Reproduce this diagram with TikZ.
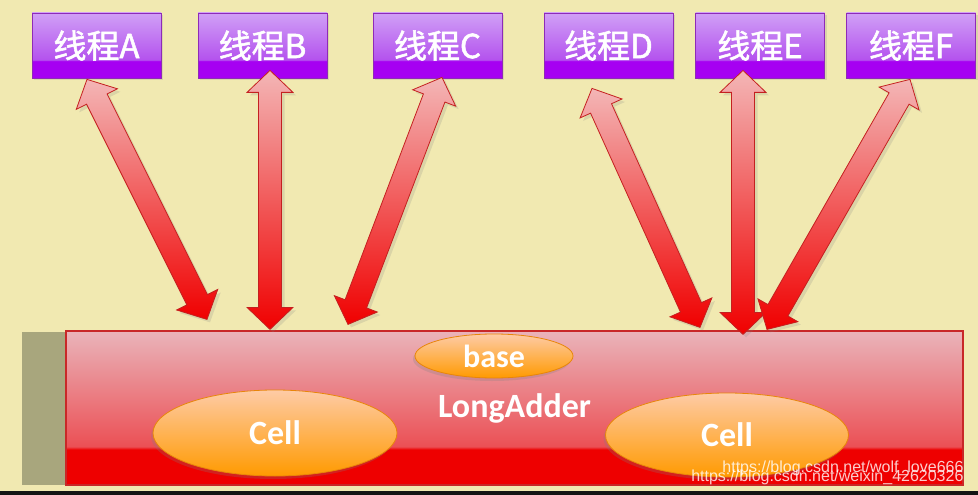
\documentclass[tikz,border=0pt]{standalone}
\usepackage{fontspec}
\usepackage{xcolor}
\usepackage{tikz}
\usetikzlibrary{calc,shapes.geometric,shadows}
\setmainfont{Carlito}
\newfontfamily\cjk{Noto Sans CJK SC}[AutoFakeBold=1.6]
\newfontfamily\wmfont{Liberation Sans}

\definecolor{bg}{HTML}{F1E9B1}
\definecolor{bandcol}{HTML}{A8A67D}
\definecolor{plight}{HTML}{D0A0F6}
\definecolor{pmid}{HTML}{B452EE}
\definecolor{pdeep}{HTML}{A600F2}
\definecolor{pline}{HTML}{8E2AB8}
\definecolor{rpink}{HTML}{EAB4BA}
\definecolor{rmid}{HTML}{EB5055}
\definecolor{rdeep}{HTML}{EE0000}
\definecolor{rline}{HTML}{C82828}
\definecolor{opeach}{HTML}{FECBA6}
\definecolor{oorange}{HTML}{FF9A00}
\definecolor{oline}{HTML}{E8860A}
\definecolor{apink}{HTML}{F3B6B6}
\definecolor{ared}{HTML}{F00000}
\definecolor{aline}{HTML}{C42020}

\pgfdeclareverticalshading{threadshade}{100bp}{color(0bp)=(pdeep); color(38bp)=(pdeep); color(39bp)=(pmid); color(75bp)=(plight); color(100bp)=(plight)}
\pgfdeclareverticalshading{addershade}{100bp}{color(0bp)=(rdeep); color(36.5bp)=(rdeep); color(37.5bp)=(rmid); color(75bp)=(rpink); color(100bp)=(rpink)}

\tikzset{
	thread/.style={rectangle, shading=threadshade, draw=pline, line width=0.8pt,
		minimum width=129pt, minimum height=65pt, text=white,
		font=\cjk\bfseries\fontsize{33}{36}\selectfont,
		drop shadow={opacity=0.2, shadow xshift=2pt, shadow yshift=-2pt}},
	adder/.style={rectangle, shading=addershade, draw=rline, line width=1.2pt,
		minimum width=897pt, minimum height=154pt, text=white,
		font=\bfseries\fontsize{34}{38}\selectfont},
	cell/.style={ellipse, top color=opeach, bottom color=oorange, draw=oline,
		line width=0.8pt, text=white, inner sep=0pt,
		drop shadow={opacity=0.25, shadow xshift=-2pt, shadow yshift=-3pt}},
	arrowbody/.style={top color=apink, bottom color=ared, draw=aline, line width=0.8pt,
		drop shadow={opacity=0.2, shadow xshift=3pt, shadow yshift=-3pt}},
	wm/.style={anchor=east, text=white, opacity=0.8, font=\wmfont\fontsize{16}{18}\selectfont}
}

\newcommand\dblarrow[2]{%
	\draw[arrowbody] (#1)
		-- ($(#1)!\hl!(#2)!\hw!90:(#2)$)
		-- ($(#1)!\hl!(#2)!\sw!90:(#2)$)
		-- ($(#2)!\hl!(#1)!\sw!-90:(#1)$)
		-- ($(#2)!\hl!(#1)!\hw!-90:(#1)$)
		-- (#2)
		-- ($(#2)!\hl!(#1)!\hw!90:(#1)$)
		-- ($(#2)!\hl!(#1)!\sw!90:(#1)$)
		-- ($(#1)!\hl!(#2)!\sw!-90:(#2)$)
		-- ($(#1)!\hl!(#2)!\hw!-90:(#2)$)
		-- cycle;}

\begin{document}
\begin{tikzpicture}[x=1pt,y=-1pt]
			\def\hl{22pt}
			\def\hw{23pt}
			\def\sw{11.5pt}
			\fill[bg] (0,0) rectangle (978,495);
			\useasboundingbox (0,0) rectangle (978,495);
			\fill[black!92] (0,491) rectangle (978,495);
			\fill[bandcol] (22,332) rectangle (66,485);
			\node[adder] (L) at (514.5,408) {LongAdder};
			\node[cell, minimum width=158pt, minimum height=44pt,
				font=\bfseries\fontsize{32}{36}\selectfont] (base) at (494,356) {base};
			\node[cell, minimum width=244pt, minimum height=86pt,
				font=\bfseries\fontsize{34}{38}\selectfont] (c1) at (275,433) {Cell};
			\node[cell, minimum width=243pt, minimum height=84pt,
				font=\bfseries\fontsize{34}{38}\selectfont] (c2) at (727,435) {Cell};
			\node[thread] (tA) at (96.5,45.5) {线程A};
			\node[thread] (tB) at (262.5,45.5) {线程B};
			\node[thread] (tC) at (437.5,45.5) {线程C};
			\node[thread] (tD) at (608.5,45.5) {线程D};
			\node[thread] (tE) at (760,45.5) {线程E};
			\node[thread] (tF) at (911,45.5) {线程F};
			\coordinate (a1) at ([xshift=-9.5pt,yshift=-1pt]tA.south);
			\coordinate (a2) at ([xshift=-307.5pt,yshift=11pt]L.north);
			\coordinate (b1) at ([xshift=7.5pt,yshift=8pt]tB.south);
			\coordinate (b2) at ([xshift=-244.5pt,yshift=1pt]L.north);
			\coordinate (c1) at ([xshift=4.5pt,yshift=1pt]tC.south);
			\coordinate (c2) at ([xshift=-166.5pt,yshift=6pt]L.north);
			\coordinate (d1) at ([xshift=-16.5pt,yshift=-10pt]tD.south);
			\coordinate (d2) at ([xshift=185.5pt,yshift=3pt]L.north);
			\coordinate (e1) at ([xshift=-17pt,yshift=8pt]tE.south);
			\coordinate (e2) at ([xshift=228.5pt,yshift=-4pt]L.north);
			\coordinate (f1) at ([xshift=-1pt,yshift=-1pt]tF.south);
			\coordinate (f2) at ([xshift=252.5pt,yshift=1pt]L.north);
			\dblarrow{a1}{a2}
			\dblarrow{b1}{b2}
			\dblarrow{c1}{c2}
			\dblarrow{d1}{d2}
			\dblarrow{e1}{e2}
			\dblarrow{f1}{f2}
			\node[wm] (w1) at (967,468) {https://blog.csdn.net/wolf\_love666};
			\node[wm] (w2) at (967,477) {https://blog.csdn.net/weixin\_42620326};
		\end{tikzpicture}
\end{document}
